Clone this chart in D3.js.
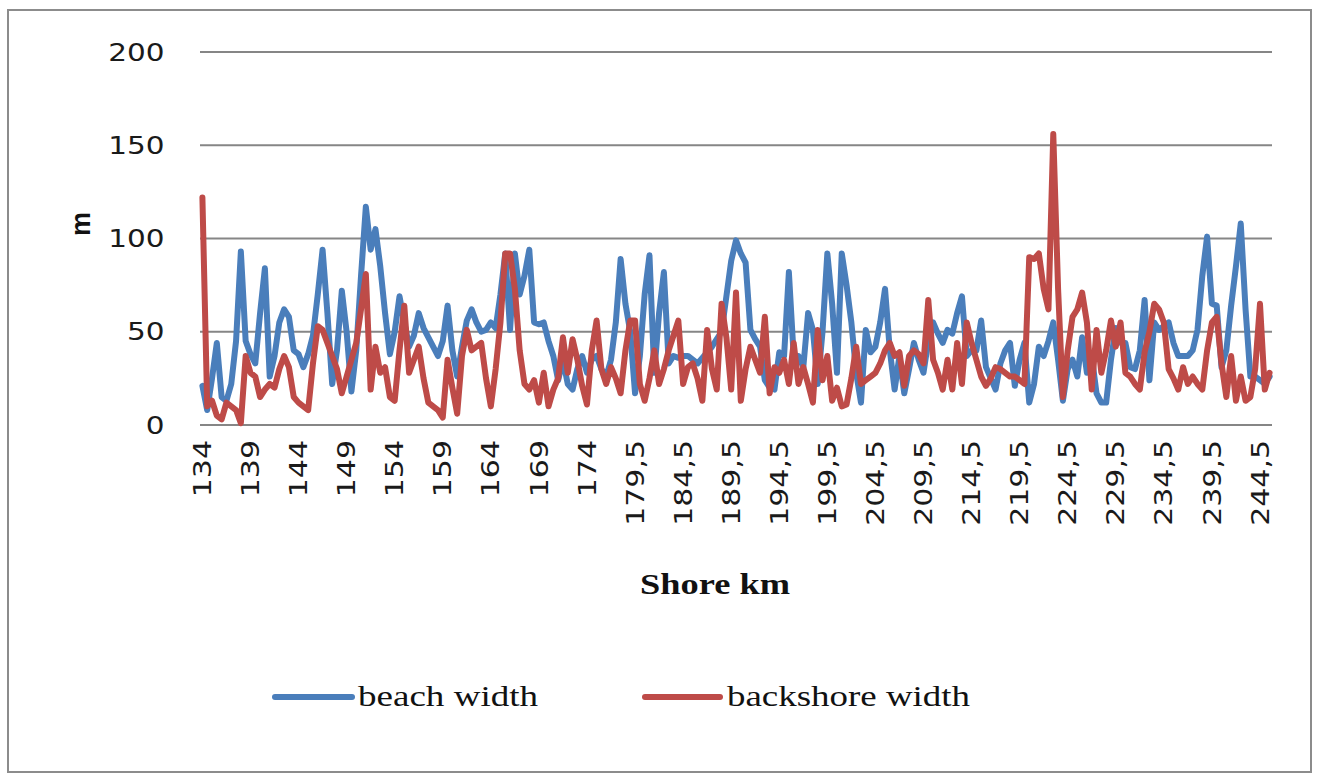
<!DOCTYPE html>
<html>
<head>
<meta charset="utf-8">
<script src="https://cdn.jsdelivr.net/npm/d3@7"></script>
<style>
  body { margin: 0; background: #fff; }
  svg { display: block; }
</style>
</head>
<body>
<svg id="chart" width="1319" height="778"></svg>
<script>
// Shore kilometre of each profile (0.5 km spacing, 176.5 missing)
const categories = [
  134,134.5,135,135.5,136,136.5,137,137.5,138,138.5,
  139,139.5,140,140.5,141,141.5,142,142.5,143,143.5,
  144,144.5,145,145.5,146,146.5,147,147.5,148,148.5,
  149,149.5,150,150.5,151,151.5,152,152.5,153,153.5,
  154,154.5,155,155.5,156,156.5,157,157.5,158,158.5,
  159,159.5,160,160.5,161,161.5,162,162.5,163,163.5,
  164,164.5,165,165.5,166,166.5,167,167.5,168,168.5,
  169,169.5,170,170.5,171,171.5,172,172.5,173,173.5,
  174,174.5,175,175.5,176,177,177.5,178,178.5,179,
  179.5,180,180.5,181,181.5,182,182.5,183,183.5,184,
  184.5,185,185.5,186,186.5,187,187.5,188,188.5,189,
  189.5,190,190.5,191,191.5,192,192.5,193,193.5,194,
  194.5,195,195.5,196,196.5,197,197.5,198,198.5,199,
  199.5,200,200.5,201,201.5,202,202.5,203,203.5,204,
  204.5,205,205.5,206,206.5,207,207.5,208,208.5,209,
  209.5,210,210.5,211,211.5,212,212.5,213,213.5,214,
  214.5,215,215.5,216,216.5,217,217.5,218,218.5,219,
  219.5,220,220.5,221,221.5,222,222.5,223,223.5,224,
  224.5,225,225.5,226,226.5,227,227.5,228,228.5,229,
  229.5,230,230.5,231,231.5,232,232.5,233,233.5,234,
  234.5,235,235.5,236,236.5,237,237.5,238,238.5,239,
  239.5,240,240.5,241,241.5,242,242.5,243,243.5,244,
  244.5,245,245.5
];

// Labels shown on every tenth category
const tickLabels = ["134","139","144","149","154","159","164","169","174",
  "179,5","184,5","189,5","194,5","199,5","204,5","209,5","214,5","219,5",
  "224,5","229,5","234,5","239,5","244,5"];

// Beach width, m
const beachWidth = [
  21,8,25,44,15,13,22,45,93,45,
  38,33,60,84,26,37,55,62,58,40,
  38,31,38,48,70,94,60,22,40,72,
  50,18,40,80,117,94,105,85,60,38,
  50,69,55,42,48,60,52,47,42,37,
  45,64,40,26,42,56,62,55,50,51,
  55,52,70,92,51,92,70,80,94,55,
  54,55,45,37,24,35,22,19,30,37,
  28,35,37,30,26,35,55,89,65,50,
  17,37,70,91,28,60,82,33,37,36,
  37,37,35,33,36,39,42,46,50,69,
  88,99,92,87,51,46,42,24,20,19,
  39,37,82,37,37,31,60,51,22,50,
  92,65,28,92,75,55,28,12,51,39,
  42,55,73,40,19,37,17,30,44,35,
  28,45,55,49,44,51,49,60,69,37,
  40,40,56,31,25,19,33,40,44,21,
  35,44,12,22,42,37,45,55,35,13,
  30,35,26,47,28,37,17,12,12,35,
  52,44,44,31,30,40,67,24,55,51,
  53,55,44,37,37,37,40,51,80,101,
  65,64,31,40,64,85,108,62,26,26,
  24,22,26
];

// Backshore width, m
const backshoreWidth = [
  122,10,13,5,3,12,10,8,1,37,
  28,26,15,19,22,20,30,37,31,15,
  12,10,8,33,53,51,44,37,30,17,
  26,35,44,62,81,19,42,28,31,15,
  13,40,64,28,35,42,25,12,10,8,
  4,35,20,6,37,51,40,42,44,25,
  10,30,55,92,92,73,40,22,19,24,
  12,28,10,19,25,47,28,46,35,21,
  11,40,56,30,22,31,25,17,40,56,
  56,22,13,25,40,22,30,40,48,56,
  22,31,33,25,13,51,30,19,65,47,
  19,71,13,30,42,35,28,58,17,31,
  28,35,22,44,22,31,22,12,51,24,
  37,13,20,10,11,25,42,22,24,26,
  28,33,40,44,37,39,21,37,40,38,
  33,67,35,28,19,35,19,44,22,55,
  44,35,26,21,25,31,30,28,26,26,
  24,22,90,89,92,73,62,156,73,15,
  40,58,62,71,55,19,51,28,40,56,
  42,55,28,26,22,19,39,50,65,62,
  55,30,25,19,31,22,26,22,19,40,
  55,58,33,15,37,13,26,13,15,30,
  65,19,28
];

const yTicks = [0, 50, 100, 150, 200];

const seriesNames = ["beach width", "backshore width"];
const seriesColors = ["#4a7ebb", "#be4b48"];

const svg = d3.select("#chart");

// outer chart frame
svg.append("rect")
  .attr("x", 8).attr("y", 10)
  .attr("width", 1303).attr("height", 762)
  .attr("fill", "#fff")
  .attr("stroke", "#8c8c8c")
  .attr("stroke-width", 2);

const plot = { left: 200, right: 1272, top: 52, bottom: 425 };

const x = d3.scaleBand()
  .domain(categories)
  .range([plot.left, plot.right])
  .paddingInner(0).paddingOuter(0);
const xc = d => x(d) + x.bandwidth() / 2;

const y = d3.scaleLinear()
  .domain([0, 200])
  .range([plot.bottom, plot.top]);

// horizontal gridlines
svg.append("g")
  .selectAll("line")
  .data(yTicks)
  .join("line")
  .attr("x1", plot.left).attr("x2", plot.right)
  .attr("y1", d => y(d)).attr("y2", d => y(d))
  .attr("stroke", "#868686")
  .attr("stroke-width", 2);

// y axis labels (slightly widened glyphs)
const yStretch = 1.18;
const yAxis = svg.append("g")
  .attr("transform", `translate(${plot.left},0)`)
  .call(d3.axisLeft(y).tickValues(yTicks).tickSize(0).tickFormat(d3.format("d")));
yAxis.select(".domain").remove();
yAxis.selectAll("text")
  .attr("x", -30)
  .attr("transform", `scale(${yStretch},1)`)
  .attr("font-family", "DejaVu Sans, Verdana, sans-serif")
  .attr("font-size", 25)
  .attr("fill", "#1a1a1a");

// x axis labels, rotated and elongated along the reading direction
const xStretch = 1.25;
const xAxis = svg.append("g")
  .attr("transform", `translate(0,${plot.bottom})`)
  .call(d3.axisBottom(x)
    .tickValues(categories.filter((d, i) => i % 10 === 0))
    .tickFormat((d, i) => tickLabels[i])
    .tickSize(0));
xAxis.select(".domain").remove();
xAxis.selectAll("text")
  .attr("transform", `rotate(-90) scale(${xStretch},1)`)
  .attr("text-anchor", "end")
  .attr("x", -15 / xStretch)
  .attr("y", 0)
  .attr("dy", "0.36em")
  .attr("font-family", "DejaVu Sans, Verdana, sans-serif")
  .attr("font-size", 24)
  .attr("fill", "#1a1a1a");

// series lines
const line = d3.line()
  .x((d, i) => xc(categories[i]))
  .y(d => y(d));

[beachWidth, backshoreWidth].forEach((vals, k) => {
  svg.append("path")
    .datum(vals)
    .attr("d", line)
    .attr("fill", "none")
    .attr("stroke", seriesColors[k])
    .attr("stroke-width", 6)
    .attr("stroke-linejoin", "round")
    .attr("stroke-linecap", "round");
});

// axis titles
svg.append("text")
  .attr("transform", "translate(90,224) rotate(-90)")
  .attr("text-anchor", "middle")
  .attr("font-family", "Liberation Sans, Arial, sans-serif")
  .attr("font-weight", "bold")
  .attr("font-size", 27)
  .attr("fill", "#111")
  .text("m");

svg.append("text")
  .attr("x", 715).attr("y", 594)
  .attr("text-anchor", "middle")
  .attr("font-family", "Liberation Serif, Times New Roman, serif")
  .attr("font-weight", "bold")
  .attr("font-size", 30)
  .attr("textLength", 150)
  .attr("lengthAdjust", "spacingAndGlyphs")
  .attr("fill", "#111")
  .text("Shore km");

// legend
const legendItems = [
  { name: seriesNames[0], color: seriesColors[0], x0: 275, x1: 352, tx: 358, tw: 180 },
  { name: seriesNames[1], color: seriesColors[1], x0: 645, x1: 720, tx: 727, tw: 243 }
];
const legend = svg.append("g");
legendItems.forEach(it => {
  legend.append("line")
    .attr("x1", it.x0).attr("x2", it.x1)
    .attr("y1", 697).attr("y2", 697)
    .attr("stroke", it.color)
    .attr("stroke-width", 6)
    .attr("stroke-linecap", "round");
  legend.append("text")
    .attr("x", it.tx).attr("y", 706)
    .attr("font-family", "Liberation Serif, Times New Roman, serif")
    .attr("font-size", 30)
    .attr("textLength", it.tw)
    .attr("lengthAdjust", "spacingAndGlyphs")
    .attr("fill", "#111")
    .text(it.name);
});
</script>
</body>
</html>
